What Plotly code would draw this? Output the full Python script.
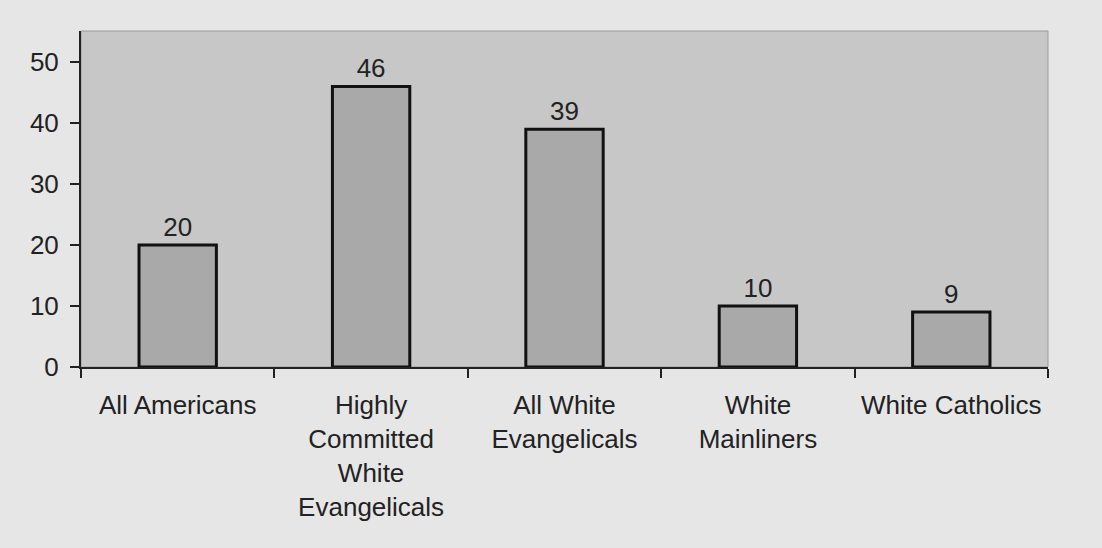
import plotly.graph_objects as go

categories = ["All Americans", "Highly<br>Committed<br>White<br>Evangelicals",
              "All White<br>Evangelicals", "White<br>Mainliners", "White Catholics"]
values = [20, 46, 39, 10, 9]
y_ticks = [0, 10, 20, 30, 40, 50]

FONT = "Liberation Sans, Arial, sans-serif"

fig = go.Figure(go.Bar(
    x=categories, y=values, width=0.4,
    marker=dict(color="#a9a9a9", line=dict(color="#111111", width=3)),
    text=[str(v) for v in values], textposition="outside",
    textfont=dict(size=26, color="#222222", family=FONT),
    cliponaxis=False,
))

fig.update_layout(
    width=1102, height=548,
    margin=dict(l=81, r=54, t=31, b=181),
    paper_bgcolor="#e6e6e6", plot_bgcolor="#c7c7c7",
    font=dict(family=FONT, size=26, color="#222222"),
    showlegend=False,
    uniformtext=dict(minsize=26, mode="show"),
    shapes=[dict(type="rect", xref="paper", yref="paper", x0=0, x1=1, y0=0, y1=1,
                 line=dict(color="#9a9a9a", width=1), layer="below")],
)
fig.update_xaxes(
    showline=True, linecolor="#222222", linewidth=2,
    ticks="outside", tickson="boundaries", ticklen=9, tickwidth=2, tickcolor="#222222",
    showgrid=False, tickangle=0, ticklabelstandoff=14,
)
fig.update_yaxes(
    range=[0, 55.1], tickvals=y_ticks, showline=True, linecolor="#222222", linewidth=2,
    ticks="outside", ticklen=9, tickwidth=2, tickcolor="#222222",
    showgrid=False, zeroline=False, ticklabelstandoff=6,
)

fig.write_html("out.html")
